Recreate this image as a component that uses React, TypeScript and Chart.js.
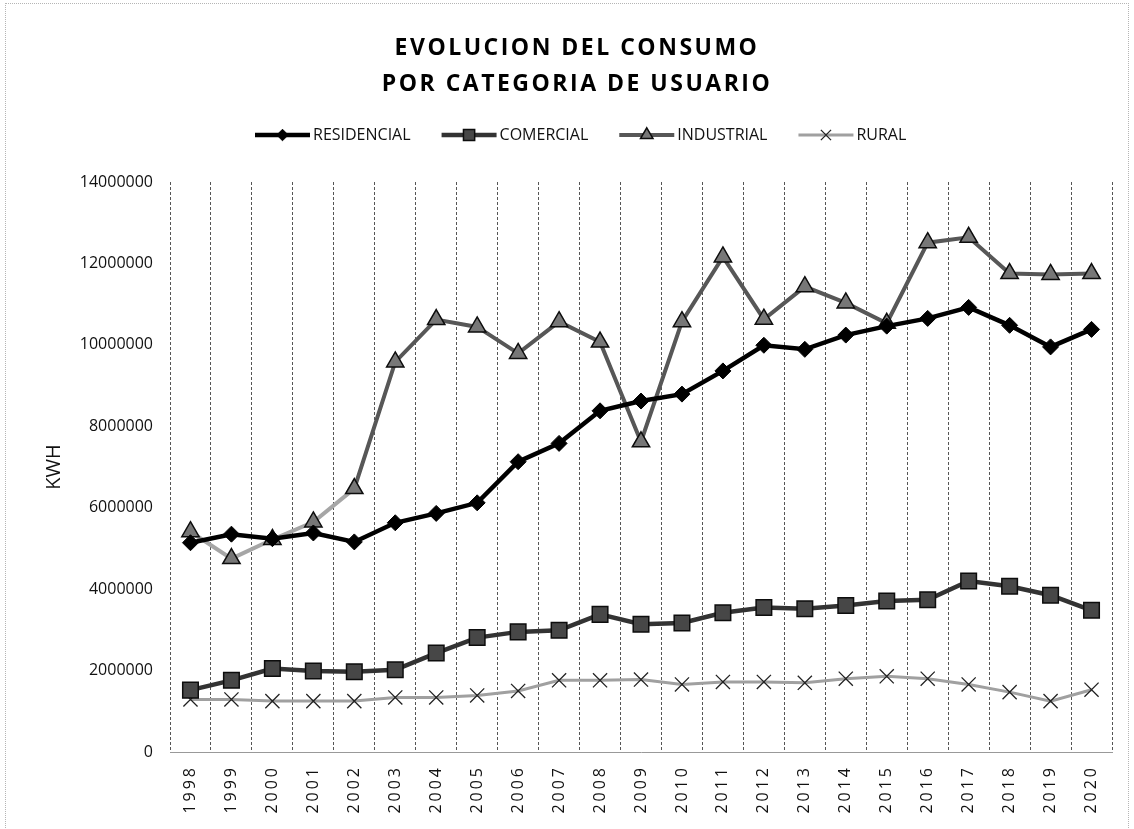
import React, { useEffect, useRef } from 'react';
import { Chart, registerables } from 'chart.js';

Chart.register(...registerables);

// ---------- data ----------
const YEARS = ['1998', '1999', '2000', '2001', '2002', '2003', '2004', '2005', '2006', '2007', '2008', '2009', '2010', '2011', '2012', '2013', '2014', '2015', '2016', '2017', '2018', '2019', '2020'];

const RESIDENCIAL = [5140000, 5350000, 5240000, 5380000, 5160000, 5630000, 5860000, 6120000, 7130000, 7580000, 8380000, 8620000, 8790000, 9360000, 9990000, 9890000, 10240000, 10460000, 10650000, 10920000, 10480000, 9950000, 10380000];
const COMERCIAL = [1520000, 1760000, 2050000, 1990000, 1970000, 2020000, 2430000, 2810000, 2950000, 2990000, 3380000, 3140000, 3170000, 3420000, 3550000, 3520000, 3600000, 3710000, 3740000, 4200000, 4070000, 3850000, 3480000];
const INDUSTRIAL = [5410000, 4750000, 5220000, 5650000, 6470000, 9580000, 10620000, 10440000, 9790000, 10570000, 10070000, 7620000, 10570000, 12160000, 10630000, 11430000, 11030000, 10530000, 12510000, 12640000, 11750000, 11730000, 11750000];
const RURAL = [1290000, 1290000, 1250000, 1250000, 1250000, 1340000, 1340000, 1390000, 1500000, 1760000, 1760000, 1780000, 1660000, 1720000, 1720000, 1700000, 1800000, 1860000, 1800000, 1660000, 1470000, 1250000, 1530000];

const SERIES_NAMES = ['RESIDENCIAL', 'COMERCIAL', 'INDUSTRIAL', 'RURAL'];
const TITLE_LINES = ['EVOLUCION DEL CONSUMO', 'POR CATEGORIA DE USUARIO'];
const Y_TITLE = 'KWH';
const Y_MIN = 0;
const Y_MAX = 14000000;
const Y_STEP = 2000000;

const FONT = '"Open Sans", "DejaVu Sans", sans-serif';

// ---------- helpers ----------
function drawMarker(ctx: CanvasRenderingContext2D, style: string, x: number, y: number, r: number, fill: string, stroke: string, lw: number) {
  ctx.save();
  ctx.fillStyle = fill;
  ctx.strokeStyle = stroke;
  ctx.lineWidth = lw;
  ctx.setLineDash([]);
  ctx.beginPath();
  if (style === 'rectRot') {
    ctx.moveTo(x, y - r);
    ctx.lineTo(x + r, y);
    ctx.lineTo(x, y + r);
    ctx.lineTo(x - r, y);
    ctx.closePath();
    ctx.fill();
    ctx.stroke();
  } else if (style === 'rect') {
    const s = r * Math.SQRT1_2;
    ctx.rect(x - s, y - s, 2 * s, 2 * s);
    ctx.fill();
    ctx.stroke();
  } else if (style === 'triangle') {
    ctx.moveTo(x, y - r);
    ctx.lineTo(x + r * 0.866, y + r * 0.5);
    ctx.lineTo(x - r * 0.866, y + r * 0.5);
    ctx.closePath();
    ctx.fill();
    ctx.stroke();
  } else if (style === 'crossRot') {
    const s = r * Math.SQRT1_2;
    ctx.moveTo(x - s, y - s);
    ctx.lineTo(x + s, y + s);
    ctx.moveTo(x + s, y - s);
    ctx.lineTo(x - s, y + s);
    ctx.stroke();
  }
  ctx.restore();
}

const headerPlugin = {
  id: 'header',
  afterDraw(chart: any) {
    const ctx: CanvasRenderingContext2D = chart.ctx;
    ctx.save();
    // title
    ctx.fillStyle = '#000';
    ctx.font = `bold 23px ${FONT}`;
    (ctx as any).letterSpacing = '2.5px';
    ctx.textAlign = 'center';
    ctx.textBaseline = 'middle';
    ctx.fillText(TITLE_LINES[0], 577, 48);
    ctx.fillText(TITLE_LINES[1], 577, 84);

    // legend
    (ctx as any).letterSpacing = '0px';
    ctx.font = `16px ${FONT}`;
    ctx.textAlign = 'left';
    ctx.textBaseline = 'middle';
    let x = 255;
    const y = 135;
    const lineLen = 55;
    chart.data.datasets.forEach((ds: any) => {
      ctx.save();
      ctx.strokeStyle = ds.legendLine;
      ctx.lineWidth = ds.borderWidth;
      ctx.beginPath();
      ctx.moveTo(x, y);
      ctx.lineTo(x + lineLen, y);
      ctx.stroke();
      ctx.restore();
      drawMarker(ctx, ds.pointStyle, x + lineLen / 2, y, ds.pointRadius * 0.72, ds.pointBackgroundColor || '#000', ds.pointBorderColor, ds.pointBorderWidth);
      ctx.fillStyle = '#111';
      ctx.fillText(ds.label, x + lineLen + 3, y);
      x += lineLen + 3 + ctx.measureText(ds.label).width + 31;
    });
    ctx.restore();
  },
};

const xLabelSpacingPlugin = {
  id: 'xLabelSpacing',
  afterLayout(chart: any) {
    const sx = chart.scales.x;
    if (sx && !sx.__spaced) {
      const orig = sx.drawLabels.bind(sx);
      sx.drawLabels = (area: any) => {
        const ctx = chart.ctx;
        ctx.save();
        ctx.letterSpacing = '3px';
        orig(area);
        ctx.restore();
      };
      sx.__spaced = true;
    }
  },
};

export default function App() {
  const canvasRef = useRef<HTMLCanvasElement | null>(null);

  useEffect(() => {
    if (!canvasRef.current) return;
    const chart = new Chart(canvasRef.current, {
      type: 'line',
      data: {
        labels: YEARS,
        datasets: [
          {
            label: SERIES_NAMES[0],
            data: RESIDENCIAL,
            borderColor: '#000',
            backgroundColor: '#000',
            legendLine: '#000',
            borderWidth: 4.5,
            tension: 0,
            pointStyle: 'rectRot',
            pointRadius: 8,
            pointBackgroundColor: '#000',
            pointBorderColor: '#000',
            pointBorderWidth: 1,
          } as any,
          {
            label: SERIES_NAMES[1],
            data: COMERCIAL,
            borderColor: '#333',
            backgroundColor: '#474747',
            legendLine: '#333',
            borderWidth: 4.5,
            tension: 0,
            pointStyle: 'rect',
            pointRadius: 11,
            pointBackgroundColor: '#474747',
            pointBorderColor: '#0d0d0d',
            pointBorderWidth: 1.5,
          } as any,
          {
            label: SERIES_NAMES[2],
            data: INDUSTRIAL,
            borderColor: '#575757',
            backgroundColor: '#7a7a7a',
            legendLine: '#575757',
            borderWidth: 4,
            tension: 0,
            segment: {
              borderColor: (c: any) => (c.p0DataIndex < 4 ? '#a6a6a6' : '#575757'),
            },
            pointStyle: 'triangle',
            pointRadius: 10,
            pointBackgroundColor: '#777',
            pointBorderColor: '#0d0d0d',
            pointBorderWidth: 1.5,
          } as any,
          {
            label: SERIES_NAMES[3],
            data: RURAL,
            borderColor: '#a0a0a0',
            backgroundColor: '#a0a0a0',
            legendLine: '#a0a0a0',
            borderWidth: 3,
            tension: 0,
            pointStyle: 'crossRot',
            pointRadius: 10,
            pointBackgroundColor: '#222',
            pointBorderColor: '#222',
            pointBorderWidth: 1.3,
          } as any,
        ],
      },
      options: {
        responsive: false,
        animation: false,
        devicePixelRatio: 1,
        layout: { padding: { left: 0, top: 182, right: 22, bottom: 0 } },
        plugins: {
          legend: { display: false },
          title: { display: false },
          tooltip: { enabled: false },
        },
        scales: {
          x: {
            type: 'category',
            offset: true,
            grid: { display: true, offset: true, color: '#555', lineWidth: 1, drawTicks: false },
            border: { display: true, color: '#999', width: 1, dash: [3, 2] },
            ticks: {
              autoSkip: false,
              minRotation: 90,
              maxRotation: 90,
              padding: 13,
              color: '#111',
              font: { family: FONT, size: 16 },
            },
            afterFit: (s: any) => {
              s.height = 77;
            },
          },
          y: {
            min: Y_MIN,
            max: Y_MAX,
            grid: { display: false, drawTicks: false },
            border: { display: false },
            ticks: {
              stepSize: Y_STEP,
              padding: 17,
              color: '#111',
              font: { family: FONT, size: 16 },
              callback: (v: any) => String(v),
            },
            title: {
              display: true,
              text: Y_TITLE,
              color: '#111',
              font: { family: FONT, size: 20 },
              padding: { top: 42, bottom: 0 },
            },
            afterFit: (s: any) => {
              s.width = 170;
            },
          },
        },
      } as any,
      plugins: [headerPlugin, xLabelSpacingPlugin],
    });
    return () => chart.destroy();
  }, []);

  return (
    <div style={{ position: 'fixed', left: 0, top: 0, width: 1134, height: 829, background: '#fff', overflow: 'hidden' }}>
      <canvas ref={canvasRef} width={1134} height={829} style={{ display: 'block' }} />
      <div
        style={{
          position: 'absolute',
          left: 5,
          top: 3,
          width: 1122,
          height: 840,
          borderTop: '1px dotted #b5b5b5',
          borderLeft: '1px dotted #b5b5b5',
          borderRight: '1px dotted #b5b5b5',
          pointerEvents: 'none',
        }}
      />
    </div>
  );
}
